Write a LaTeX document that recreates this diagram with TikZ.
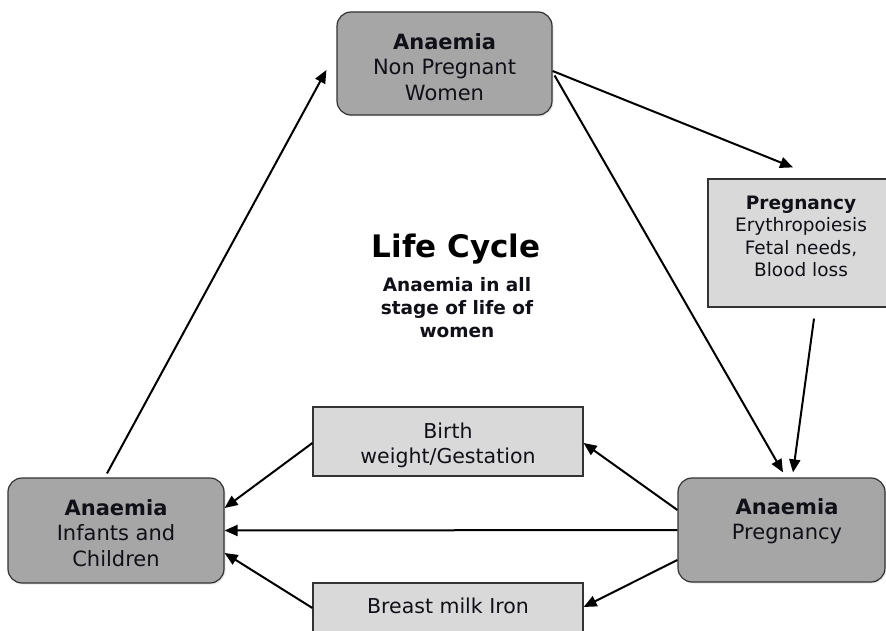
\documentclass[tikz,border=0pt]{standalone}
\usepackage{fontspec}
\setmainfont{DejaVu Sans}
\usetikzlibrary{arrows.meta,shadows}
\definecolor{darkfill}{HTML}{A6A6A6}
\definecolor{lightfill}{HTML}{D9D9D9}
\definecolor{edgecol}{HTML}{333333}
\definecolor{txtcol}{HTML}{101018}
\begin{document}
\begin{tikzpicture}[x=1pt,y=-1pt,
  rbox/.style={draw=edgecol, line width=1.2pt, fill=darkfill, rounded corners=14pt,
    drop shadow={opacity=0.18, shadow xshift=1.5pt, shadow yshift=-1.5pt}, inner sep=0pt},
  sbox/.style={draw=edgecol, line width=1.2pt, fill=lightfill, inner sep=0pt},
  nodetext/.style={align=center, text=txtcol, font=\fontsize{21}{25.5}\selectfont, inner sep=0pt},
  smalltext/.style={align=center, text=txtcol, font=\fontsize{18.5}{22.5}\selectfont, inner sep=0pt},
  boxtext/.style={align=center, text=txtcol, font=\fontsize{20.5}{25}\selectfont, inner sep=0pt},
  arr/.style={line width=2pt, -{Triangle[length=13pt,width=11pt]}},
]
\clip (0,0) rectangle (886,631);
\fill[white] (0,0) rectangle (886,631);

% main rounded nodes
\node[rbox, minimum width=215pt, minimum height=103pt] (tn) at (444.5,63.5) {};
\node[nodetext] (tntxt) at (444.5,67) {\textbf{Anaemia}\\Non Pregnant\\Women};

\node[rbox, minimum width=216pt, minimum height=105pt] (bl) at (116,530.5) {};
\node[nodetext] (bltxt) at (116,533) {\textbf{Anaemia}\\Infants and\\Children};

\node[rbox, minimum width=207pt, minimum height=104pt] (br) at (781.5,530) {};
\node[nodetext] (brtxt) at (787,521) {\textbf{Anaemia}\\Pregnancy};

% square boxes
\node[sbox, minimum width=186pt, minimum height=128pt] (preg) at (801,243) {};
\node[smalltext] (pregtxt) at (801,236.5) {\textbf{Pregnancy}\\Erythropoiesis\\Fetal needs,\\Blood loss};

\node[sbox, minimum width=270pt, minimum height=69pt] (birth) at (448,441.5) {};
\node[boxtext] (birthtxt) at (448,445) {Birth\\weight/Gestation};

\node[sbox, minimum width=270pt, minimum height=70pt] (milk) at (448,618) {};
\node[boxtext, anchor=base] (milktxt) at (448,613) {Breast milk Iron};

% centre text
\node[text=black, inner sep=0pt, anchor=base, font=\fontsize{31}{36}\selectfont\bfseries] (title) at (456,258) {Life Cycle};
\node[text=txtcol, inner sep=0pt, align=center, font=\fontsize{18.5}{23}\selectfont\bfseries] (sub) at (457,308) {Anaemia in all\\stage of life of\\women};

% connectors
\draw[arr] ([shift={(-9,-4)}]bl.north) -- ([shift={(-10,6.5)}]tn.west);
\draw[arr] ([shift={(0,7.5)}]tn.east) -- ([shift={(-8,-11)}]preg.north);
\draw[arr] ([shift={(2,12)}]tn.east) -- ([shift={(1.5,-5)}]br.north);
\draw[arr] ([shift={(13,11)}]preg.south) -- ([shift={(11.5,-5)}]br.north);
\draw[arr] ([shift={(0,-20)}]br.west) -- ([shift={(0,1.5)}]birth.east);
\draw[arr] (br.west) -- (bl.east);
\draw[arr] ([shift={(0,30)}]br.west) -- ([shift={(0,-11)}]milk.east);
\draw[arr] ([shift={(0,1.5)}]birth.west) -- ([shift={(0,-22.5)}]bl.east);
\draw[arr] ([shift={(0,-10)}]milk.west) -- ([shift={(0,22.5)}]bl.east);
\end{tikzpicture}
\end{document}
